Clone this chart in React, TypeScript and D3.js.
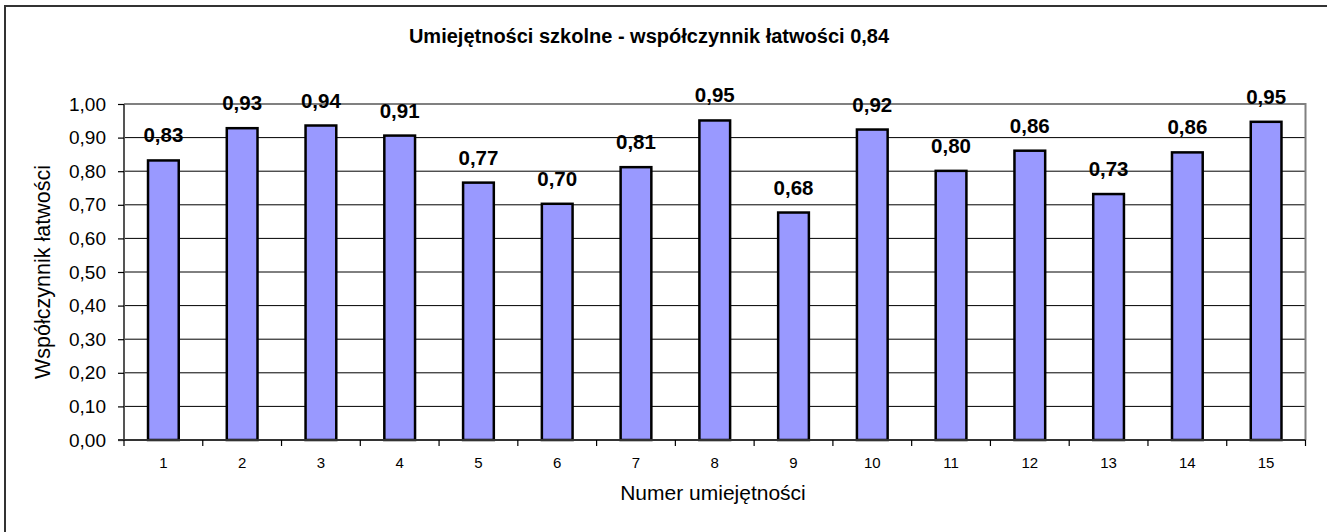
import { useEffect, useRef } from "react";
import * as d3 from "d3";

const categories = ["1", "2", "3", "4", "5", "6", "7", "8", "9", "10", "11", "12", "13", "14", "15"];
const values = [0.832, 0.928, 0.936, 0.906, 0.766, 0.703, 0.812, 0.951, 0.677, 0.924, 0.801, 0.861, 0.732, 0.856, 0.947];
const yTicks = [0, 0.1, 0.2, 0.3, 0.4, 0.5, 0.6, 0.7, 0.8, 0.9, 1.0];

const title = "Umiejętności szkolne - współczynnik łatwości 0,84";
const xTitle = "Numer umiejętności";
const yTitle = "Współczynnik łatwości";

const fmt = (v: number) => v.toFixed(2).replace(".", ",");
const FONT = "'Liberation Sans', Arial, sans-serif";

export default function App() {
  const svgRef = useRef<SVGSVGElement>(null);

  useEffect(() => {
    if (!svgRef.current) return;
    const W = 1327;
    const H = 532;
    const plot = { left: 124, right: 1305.5, top: 104, bottom: 440 };

    const svg = d3.select(svgRef.current).attr("width", W).attr("height", H);
    svg.selectAll("*").remove();

    // chart frame (continues past the right/bottom edge)
    svg.append("rect")
      .attr("x", 5).attr("y", 6)
      .attr("width", W + 20).attr("height", H + 20)
      .attr("fill", "#fff")
      .attr("stroke", "#333")
      .attr("stroke-width", 2);

    const x = d3.scaleBand<string>()
      .domain(categories)
      .range([plot.left, plot.right])
      .paddingInner(0.61)
      .paddingOuter(0.305);

    const y = d3.scaleLinear().domain([0, 1]).range([plot.bottom, plot.top]);

    // gridlines
    svg.append("g")
      .selectAll("line")
      .data(yTicks.filter((t) => t > 0 && t < 1))
      .join("line")
      .attr("x1", plot.left).attr("x2", plot.right)
      .attr("y1", (d) => y(d)).attr("y2", (d) => y(d))
      .attr("stroke", "#000")
      .attr("stroke-width", 1);

    // plot border (top + right), gray
    svg.append("path")
      .attr("d", `M${plot.left},${plot.top}H${plot.right}V${plot.bottom}`)
      .attr("fill", "none")
      .attr("stroke", "#808080")
      .attr("stroke-width", 2);

    // bars
    svg.append("g")
      .selectAll("rect")
      .data(values)
      .join("rect")
      .attr("x", (_, i) => x(categories[i])!)
      .attr("y", (d) => y(d))
      .attr("width", x.bandwidth())
      .attr("height", (d) => y(0) - y(d))
      .attr("fill", "#9999ff")
      .attr("stroke", "#000")
      .attr("stroke-width", 2.5);

    // value labels
    svg.append("g")
      .selectAll("text")
      .data(values)
      .join("text")
      .attr("x", (_, i) => x(categories[i])! + x.bandwidth() / 2)
      .attr("y", (d) => y(d) - 18)
      .attr("text-anchor", "middle")
      .style("font-family", FONT)
      .style("font-size", "20.5px")
      .style("font-weight", "bold")
      .text((d) => fmt(d));

    // y axis
    const yAxis = svg.append("g")
      .attr("transform", `translate(${plot.left},0)`)
      .call(d3.axisLeft(y).tickValues(yTicks).tickSize(6).tickFormat((d) => fmt(+d)));
    yAxis.select(".domain").attr("stroke", "#555").attr("stroke-width", 2).attr("d", `M0,${plot.top}V${plot.bottom}`);
    yAxis.selectAll(".tick line").attr("stroke", "#000").attr("stroke-width", 1.2);
    yAxis.selectAll(".tick text")
      .attr("x", -18)
      .attr("fill", "#000")
      .style("font-family", FONT)
      .style("font-size", "19px");

    // x axis
    const boundaries = d3.range(categories.length + 1).map((i) => plot.left + (i * (plot.right - plot.left)) / categories.length);
    const xg = svg.append("g");
    xg.append("line")
      .attr("x1", plot.left - 6).attr("x2", plot.right)
      .attr("y1", plot.bottom).attr("y2", plot.bottom)
      .attr("stroke", "#333").attr("stroke-width", 2);
    xg.selectAll("line.tick")
      .data(boundaries)
      .join("line")
      .attr("class", "tick")
      .attr("x1", (d) => d).attr("x2", (d) => d)
      .attr("y1", plot.bottom).attr("y2", plot.bottom + 6)
      .attr("stroke", "#000").attr("stroke-width", 1.2);
    xg.selectAll("text")
      .data(categories)
      .join("text")
      .attr("x", (d) => x(d)! + x.bandwidth() / 2)
      .attr("y", 468)
      .attr("text-anchor", "middle")
      .style("font-family", FONT)
      .style("font-size", "15px")
      .text((d) => d);

    // titles
    svg.append("text")
      .attr("x", 649).attr("y", 43)
      .attr("text-anchor", "middle")
      .style("font-family", FONT)
      .style("font-size", "20px")
      .style("font-weight", "bold")
      .text(title);

    svg.append("text")
      .attr("x", 713).attr("y", 500)
      .attr("text-anchor", "middle")
      .style("font-family", FONT)
      .style("font-size", "21px")
      .text(xTitle);

    svg.append("text")
      .attr("transform", `translate(50,272) rotate(-90)`)
      .attr("text-anchor", "middle")
      .style("font-family", FONT)
      .style("font-size", "21.5px")
      .text(yTitle);
  }, []);

  return (
    <svg
      ref={svgRef}
      style={{ position: "absolute", left: 0, top: 0, display: "block", background: "#fff" }}
    />
  );
}
